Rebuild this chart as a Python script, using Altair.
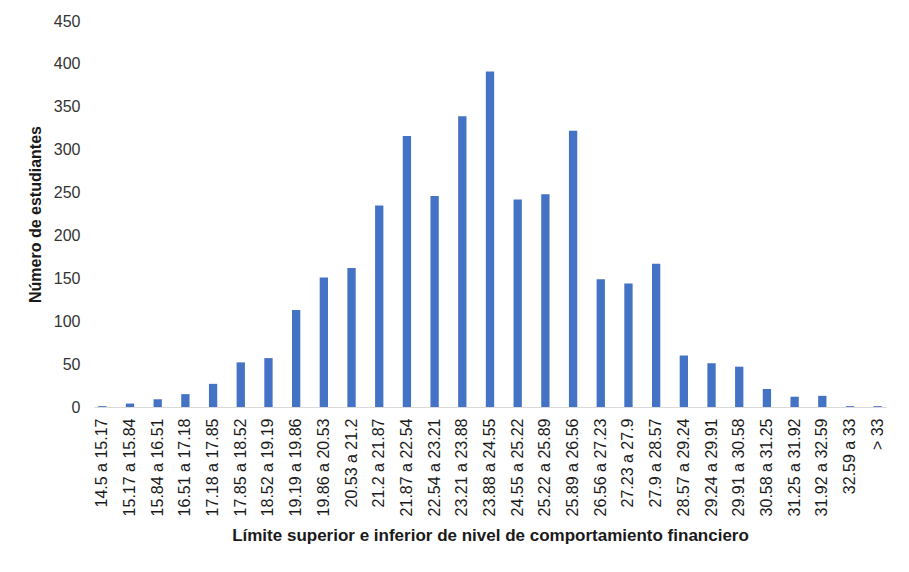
import altair as alt
import pandas as pd

categories = [
    "14.5 a 15.17", "15.17 a 15.84", "15.84 a 16.51", "16.51 a 17.18", "17.18 a 17.85",
    "17.85 a 18.52", "18.52 a 19.19", "19.19 a 19.86", "19.86 a 20.53", "20.53 a 21.2",
    "21.2 a 21.87", "21.87 a 22.54", "22.54 a 23.21", "23.21 a 23.88", "23.88 a 24.55",
    "24.55 a 25.22", "25.22 a 25.89", "25.89 a 26.56", "26.56 a 27.23", "27.23 a 27.9",
    "27.9 a 28.57", "28.57 a 29.24", "29.24 a 29.91", "29.91 a 30.58", "30.58 a 31.25",
    "31.25 a 31.92", "31.92 a 32.59", "32.59 a 33", "> 33",
]
counts = [
    1, 4, 9, 15, 27,
    52, 57, 113, 151, 162,
    235, 316, 246, 339, 391,
    242, 248, 322, 149, 144,
    167, 60, 51, 47, 21,
    12, 13, 1, 1,
]
y_ticks = [0, 50, 100, 150, 200, 250, 300, 350, 400, 450]

df = pd.DataFrame({"rango": categories, "n": counts})

chart = alt.Chart(df).mark_bar(color="#4472C4").encode(
    x=alt.X(
        "rango:N",
        sort=categories,
        scale=alt.Scale(paddingInner=0.7, paddingOuter=0.15),
        axis=alt.Axis(
            title="Límite superior e inferior de nivel de comportamiento financiero",
            labelAngle=-90,
            labelFont="Liberation Sans",
            labelFontSize=16,
            labelColor="#1a1a1a",
            labelPadding=11,
            ticks=False,
            domainColor="#d9d9d9",
            domainWidth=1,
            titleFont="Liberation Sans",
            titleFontSize=17,
            titleFontWeight="bold",
            titleColor="#1a1a1a",
            titlePadding=12,
        ),
    ),
    y=alt.Y(
        "n:Q",
        scale=alt.Scale(domain=[0, 450]),
        axis=alt.Axis(
            title="Número de estudiantes",
            values=y_ticks,
            grid=False,
            domain=False,
            ticks=False,
            labelFont="Liberation Sans",
            labelFontSize=16,
            labelColor="#333333",
            labelPadding=14,
            titleFont="Liberation Sans",
            titleFontSize=16,
            titleFontWeight="bold",
            titleColor="#1a1a1a",
            titlePadding=10,
        ),
    ),
).properties(
    width=792,
    height=386,
    background="white",
    padding={"left": 86, "top": 13, "right": 12, "bottom": 150},
    autosize=alt.AutoSizeParams(type="none"),
).configure_view(strokeWidth=0)

chart.save("out.html", embed_options={"renderer": "svg", "actions": False})
